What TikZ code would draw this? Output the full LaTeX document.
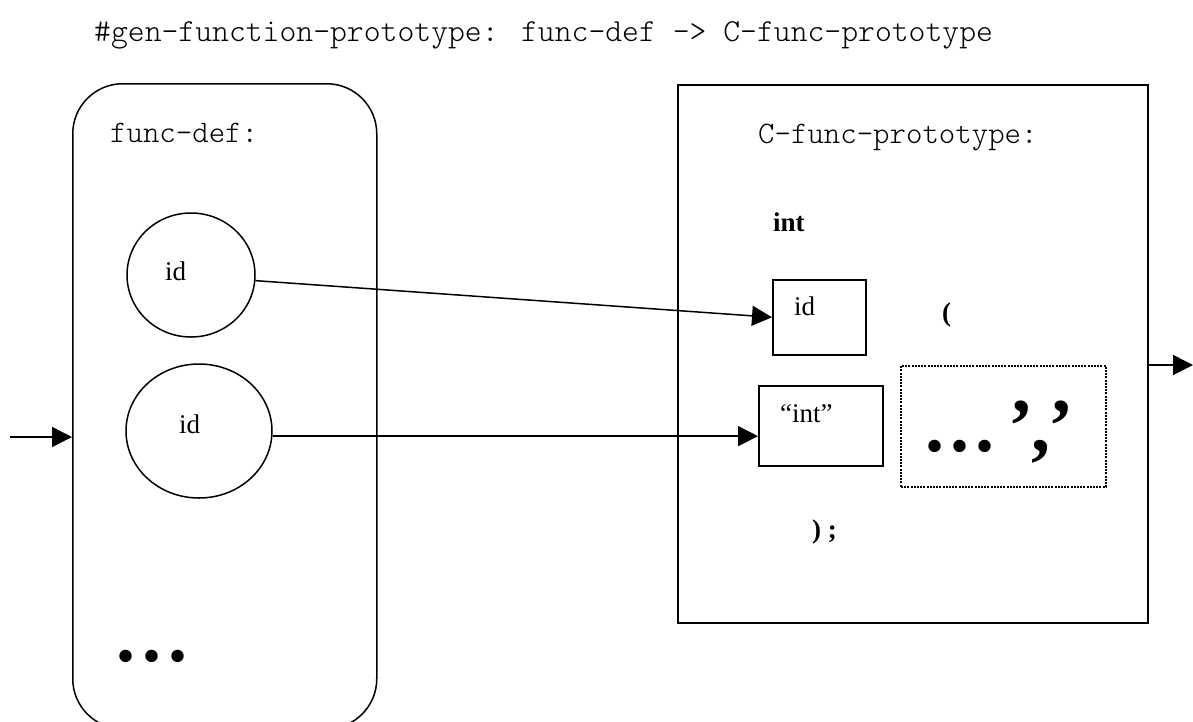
\documentclass[tikz,border=0pt]{standalone}
\usepackage{fontspec}
\setmainfont{Liberation Serif}
\newfontfamily\monof{lmmonolt10-regular.otf}
\usetikzlibrary{arrows.meta,shapes.geometric}
\tikzset{
  ln/.style={line width=1.5pt},
  arr/.style={ln,-{Triangle[length=20pt,width=20pt]}},
  mono/.style={font=\monof\fontsize{31.3}{33}\selectfont, inner sep=0pt},
  serif/.style={font=\fontsize{27}{30}\selectfont, inner sep=0pt},
  serifb/.style={font=\bfseries\fontsize{27}{30}\selectfont, inner sep=0pt},
  big/.style={font=\bfseries\fontsize{76}{80}\selectfont, inner sep=0pt},
  oval/.style={ln, draw, ellipse, inner sep=0pt},
  sq/.style={ln, draw, rectangle, inner sep=0pt}
}
\begin{document}
\begin{tikzpicture}[x=1pt,y=-1pt]
\useasboundingbox (0,0) rectangle (1193,721);
\clip (0,0) rectangle (1193,721);
% title
\node[mono, font=\monof\fontsize{32.1}{34}\selectfont, anchor=base west] (title) at (94,41) {\#gen-function-prototype: func-def -> C-func-prototype};
% left rounded box
\node[ln, draw, rectangle, rounded corners=50pt, minimum width=304pt, minimum height=645pt, anchor=north west] (lbox) at (72,83) {};
\node[mono, anchor=base west] (fdef) at (110,142) {func-def:};
\node[oval, minimum width=128pt, minimum height=124pt] (c1) at (191,275) {};
\node[serif, anchor=base west] (id1) at (165,280) {id};
\node[oval, minimum width=146pt, minimum height=134pt] (c2) at (199,431) {};
\node[serif, anchor=base west] (id2) at (179,433) {id};
\node[big, anchor=base west] (ldots) at (116.5,661.5) {.\kern7pt.\kern7pt.};
% right box
\node[ln, draw, rectangle, minimum width=470pt, minimum height=538pt, anchor=north west] (rbox) at (677,84) {};
\node[mono, anchor=base west] (cfp) at (758,143) {C-func-prototype:};
\node[serifb, anchor=base west] (int) at (773,231) {int};
\node[sq, minimum width=93pt, minimum height=75pt, anchor=north west] (idbox) at (772,279) {};
\node[serif, anchor=base west] (idt) at (794,315) {id};
\node[serifb, anchor=base west] (lpar) at (942,321) {(};
\node[sq, minimum width=124pt, minimum height=80pt, anchor=north west] (intbox) at (758,385) {};
\node[serif, anchor=base west] (intq) at (780,422) {“int”};
\node[draw, line width=2pt, dash pattern=on 2pt off 1.2pt, rectangle, minimum width=205pt, minimum height=121pt, anchor=north west] (dbox) at (900,365) {};
\node[big, anchor=base west] (dtxt) at (925,451) {.\kern6pt.\kern6pt.\kern14pt’\kern-2pt,\kern-2pt’};
\node[serifb, anchor=base west] (rpar) at (812,538) {) ;};
% connectors
\coordinate (inL) at (10,437);
\coordinate (outR) at (1193,365);
\draw[arr] (inL) -- (inL -| lbox.west);
\draw[arr] (c1.-5) -- (idbox.west);
\draw[arr] (c2.-4) -- (c2.-4 -| intbox.west);
\draw[arr] (rbox.east |- outR) -- (outR);
\end{tikzpicture}
\end{document}
